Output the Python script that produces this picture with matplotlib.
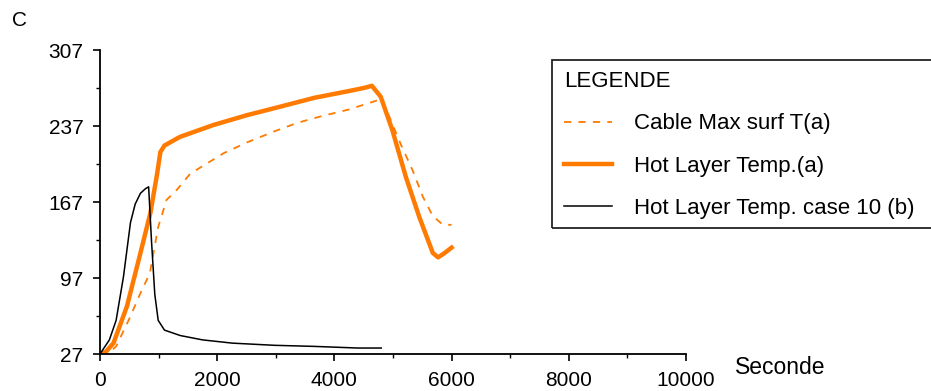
import matplotlib
matplotlib.use("Agg")
import matplotlib.pyplot as plt
from matplotlib.patches import Rectangle

plt.rcParams['font.family'] = ['Liberation Sans', 'DejaVu Sans']

# Hot Layer Temp.(a)
hot_t = [0, 100, 230, 460, 690, 860, 975, 1030, 1100, 1365, 1940, 2510, 3090, 3660,
         4230, 4500, 4640, 4790, 4990, 5220, 5450, 5680, 5770, 5880, 6000]
hot_T = [27, 29, 37, 71, 120, 157, 193, 213, 219, 227, 238, 247, 255, 263,
         269, 272, 274, 264, 233, 190, 153, 120, 116, 120, 125]

# Cable Max surf T(a)
cab_t = [0, 150, 275, 505, 706, 849, 993, 1136, 1308, 1538, 2111, 2513, 2972, 3373,
         3775, 4234, 4640, 4810, 5134, 5336, 5508, 5680, 5852, 6000]
cab_T = [27, 28, 34, 60, 85, 101, 144, 169, 178, 193, 212, 222, 232, 240,
         246, 252, 259, 262, 220, 196, 172, 154, 146, 146]

# Hot Layer Temp. case 10 (b)
c10_t = [0, 160, 275, 400, 520, 600, 690, 770, 830, 880, 935, 993, 1100, 1370,
         1750, 2260, 2980, 3660, 4400, 4800]
c10_T = [27, 40, 58, 98, 148, 165, 175, 179, 181, 130, 82, 58, 49, 44,
         40, 37, 35, 34, 32.5, 32.5]

W, H = 931, 391
fig = plt.figure(figsize=(W / 100, H / 100), dpi=100)
fig.patch.set_facecolor('white')
ax = fig.add_axes([100 / W, (H - 354) / H, 586 / W, 304 / H])

orange = '#FF7A00'
ax.plot(cab_t, cab_T, color=orange, lw=1.3, ls=(0, (4, 4)), label='Cable Max surf T(a)')
ax.plot(hot_t, hot_T, color=orange, lw=3.2, label='Hot Layer Temp.(a)', solid_joinstyle='round')
ax.plot(c10_t, c10_T, color='black', lw=1.1, label='Hot Layer Temp. case 10 (b)')

ax.set_xlim(0, 10000)
ax.set_ylim(27, 307)
ax.set_xticks([0, 2000, 4000, 6000, 8000, 10000])
ax.set_xticks([1000, 3000, 5000, 7000, 9000], minor=True)
ax.set_yticks([27, 97, 167, 237, 307])
ax.set_yticks([62, 132, 202, 272], minor=True)
for s in ['top', 'right']:
    ax.spines[s].set_visible(False)
for s in ['left', 'bottom']:
    ax.spines[s].set_linewidth(1.3)
ax.tick_params(which='major', length=5, width=1.2, labelsize=15, colors='black')
ax.tick_params(axis='y', which='major', pad=7)
ax.tick_params(axis='x', which='major', pad=7)
ax.tick_params(which='minor', length=3, width=1.0)

fig.text(12 / W, 1 - 20 / H, 'C', fontsize=15, va='center', ha='left')
fig.text(735 / W, 1 - 368 / H, 'Seconde', fontsize=16.5, va='center', ha='left')

# legend box
fig.patches.append(Rectangle((552 / W, 1 - 228 / H), 400 / W, 168 / H,
                             transform=fig.transFigure, fill=False,
                             edgecolor='#222222', lw=1.3))
leg = fig.legend(loc='upper left', bbox_to_anchor=(551 / W, 1 - 58 / H),
                 title='LEGENDE', alignment='left', frameon=False,
                 fontsize=16, title_fontsize=16, handlelength=2.15,
                 handletextpad=1.0, labelspacing=0.95, borderpad=0.1)
fig.savefig('out.png', dpi=100)
